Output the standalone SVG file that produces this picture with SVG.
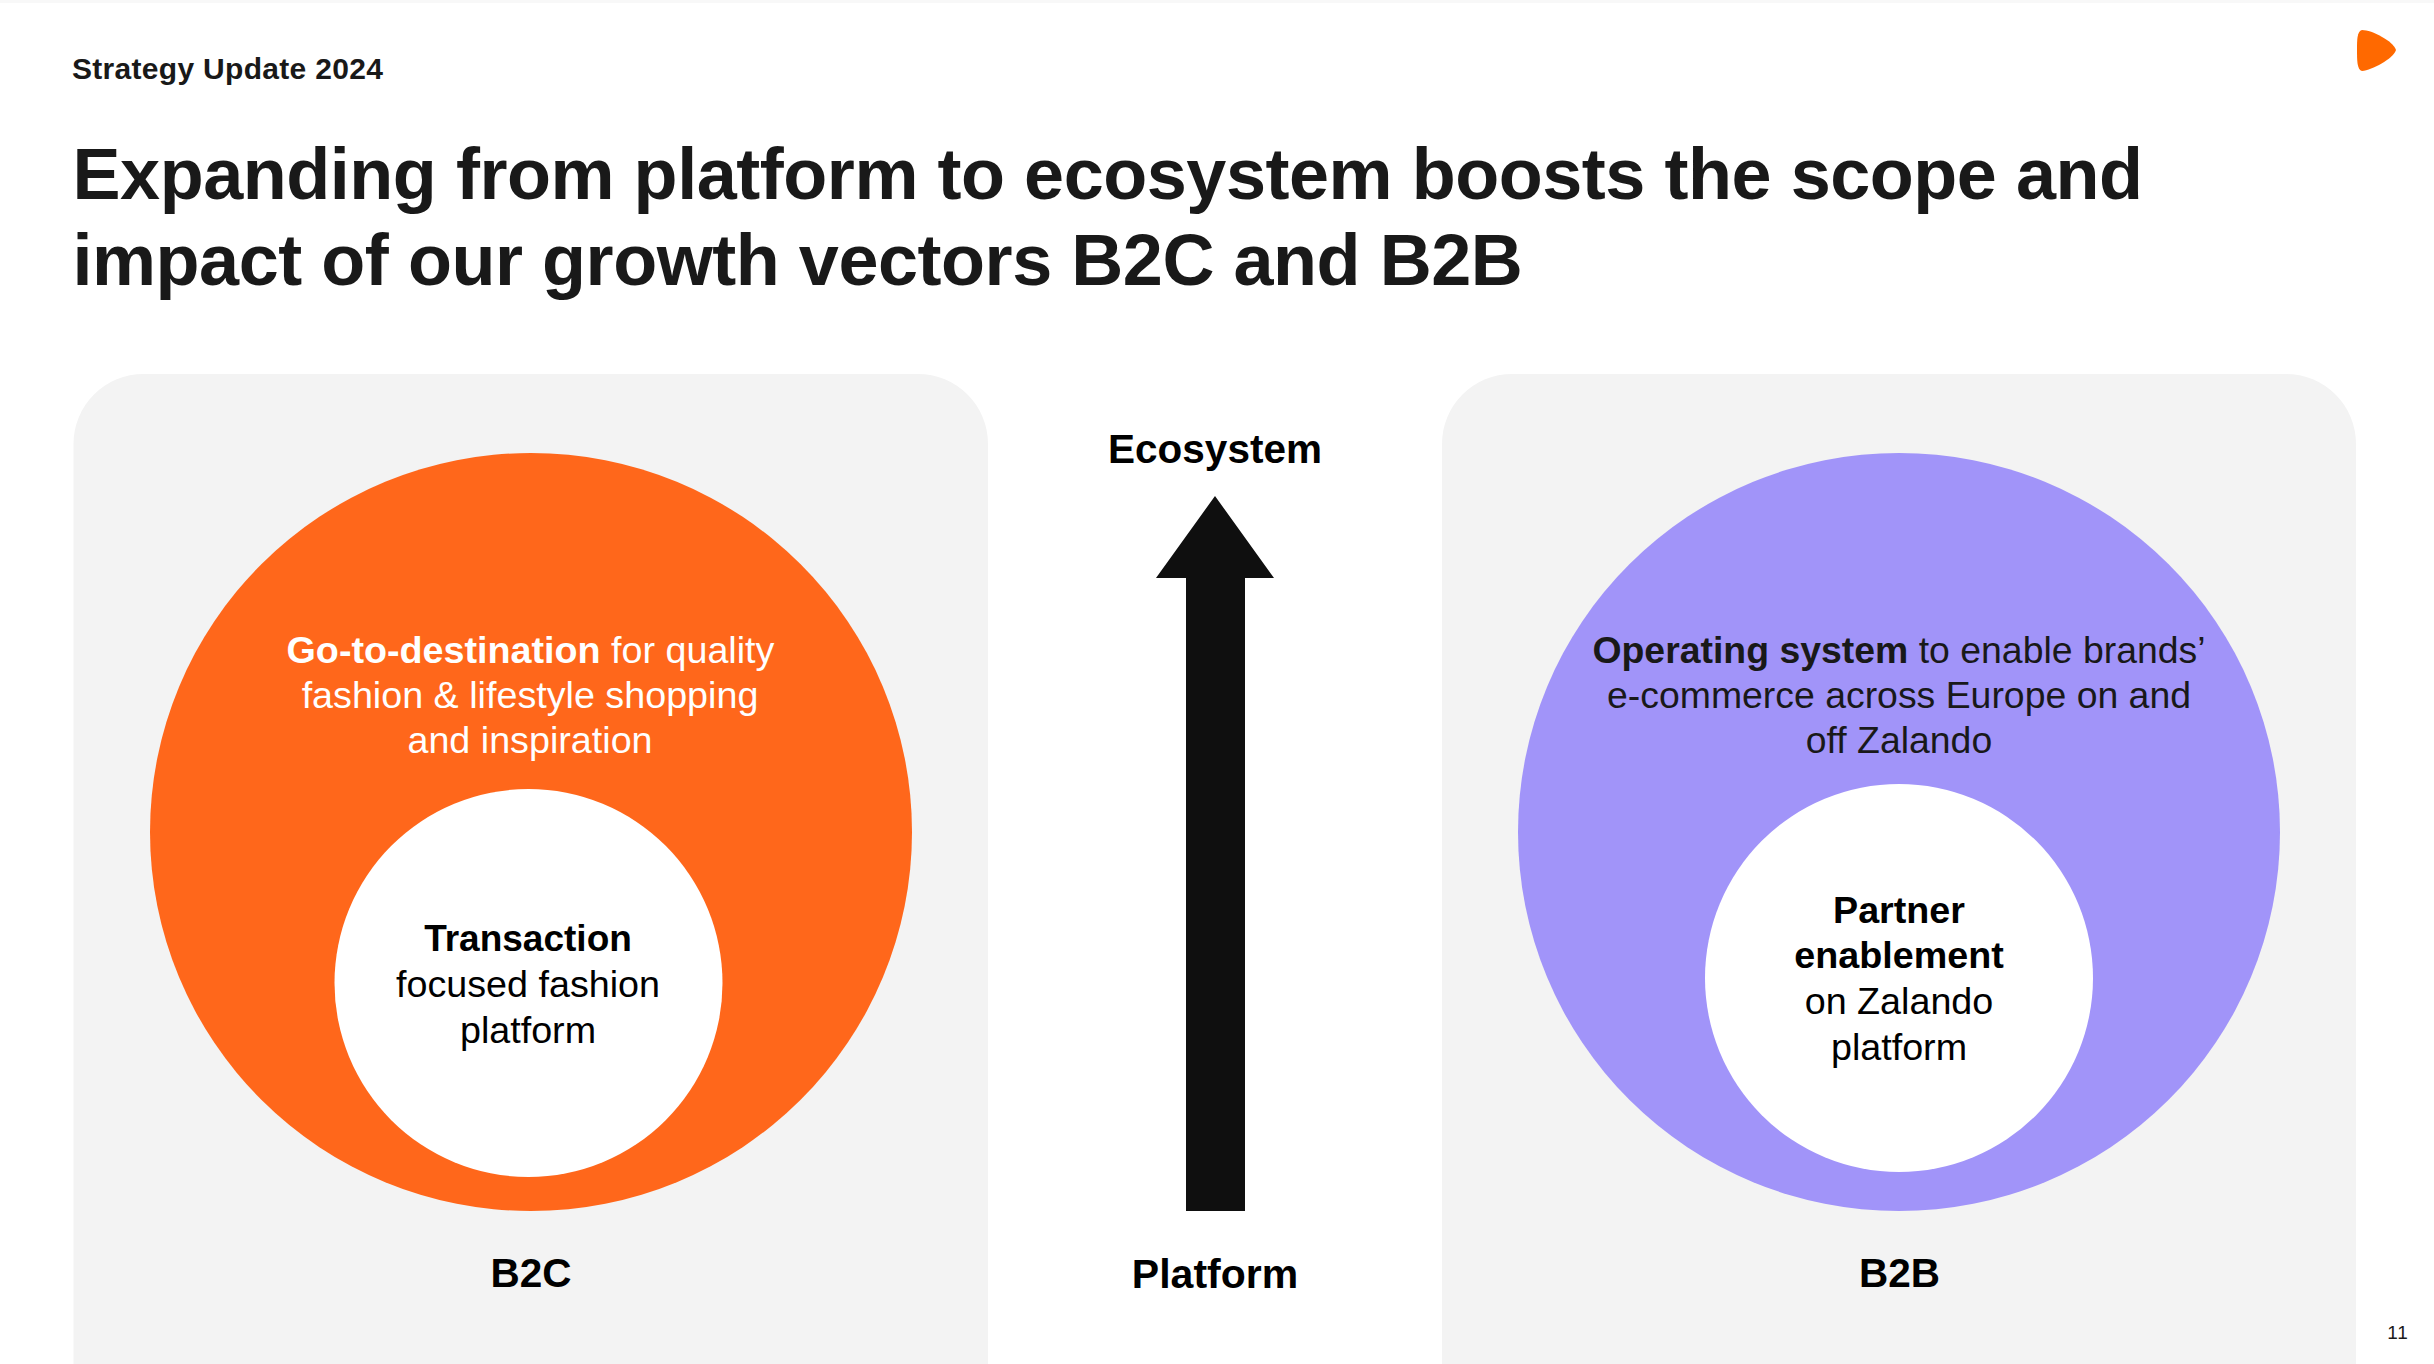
<svg xmlns="http://www.w3.org/2000/svg" width="2434" height="1364" viewBox="0 0 2434 1364">
<style>
text{font-family:"Liberation Sans",Arial,sans-serif;text-anchor:middle}
.b{font-weight:700}
.lbl{font-size:40.5px;font-weight:700;fill:#000}
.body{font-size:37.7px;fill:#000}
.rt{font-size:37.4px}
.w{fill:#fff}
.dk{fill:#191919}
.panel{fill:#f3f3f3}
.title{font-size:72px;font-weight:700;letter-spacing:-.46px;text-anchor:start}
</style>
<rect width="2434" height="1364" fill="#fff"/>
<rect width="2434" height="3" fill="#f8f8f8"/>
<g id="header">
<text x="72" y="79" class="b dk" font-size="30" letter-spacing=".3" style="text-anchor:start">Strategy Update 2024</text>
<text x="72.5" y="199" class="title dk">Expanding from platform to ecosystem boosts the scope and</text>
<text x="72.5" y="285" class="title dk">impact of our growth vectors B2C and B2B</text>
<path id="logo" d="M2362 30C2372 30 2393 41 2396 50C2393 59 2372 70 2362 71C2357 70 2357 60 2357 50C2357 40 2357 31 2362 30Z" fill="#ff6900"/>
</g>
<g id="b2c">
<path class="panel" d="M73.5 1364V444a70 70 0 0 1 70-70H918a70 70 0 0 1 70 70V1364Z"/>
<ellipse cx="531" cy="832" rx="381" ry="379" fill="#ff671b"/>
<text x="530.500" y="663" class="body w"><tspan class="b">Go-to-destination</tspan> for quality</text>
<text x="530" y="708" class="body w">fashion &amp; lifestyle shopping</text>
<text x="530" y="753" class="body w">and inspiration</text>
<circle cx="528.500" cy="983" r="194" fill="#fff"/>
<text x="528" y="951" class="body b" style="font-size:37px">Transaction</text>
<text x="528" y="997" class="body">focused fashion</text>
<text x="528" y="1043" class="body">platform</text>
<text x="531" y="1287" class="lbl">B2C</text>
</g>
<g id="connectors">
<path id="arrow" d="M1215 496L1274 578H1245V1211H1186V578H1156Z" fill="#0f0f0f"/>
</g>
<g id="ecosystem"><text x="1215" y="463" class="lbl">Ecosystem</text></g>
<g id="platform"><text x="1215" y="1288" class="lbl" style="font-size:41px">Platform</text></g>
<g id="b2b">
<path class="panel" d="M1442 1364V444a70 70 0 0 1 70-70H2286a70 70 0 0 1 70 70V1364Z"/>
<ellipse cx="1899" cy="832" rx="381" ry="379" fill="#a194f9"/>
<text x="1899" y="663" class="body rt dk"><tspan class="b">Operating system</tspan> to enable brands’</text>
<text x="1899" y="708" class="body rt dk">e-commerce across Europe on and</text>
<text x="1899" y="753" class="body rt dk">off Zalando</text>
<circle cx="1899" cy="978" r="194" fill="#fff"/>
<text x="1899" y="923" class="body b">Partner</text>
<text x="1899" y="968" class="body b">enablement</text>
<text x="1899" y="1014" class="body">on Zalando</text>
<text x="1899" y="1060" class="body">platform</text>
<text x="1899.500" y="1287" class="lbl">B2B</text>
</g>
<text id="page" x="2398" y="1339" font-size="19" letter-spacing="1" fill="#191919">11</text>
</svg>
